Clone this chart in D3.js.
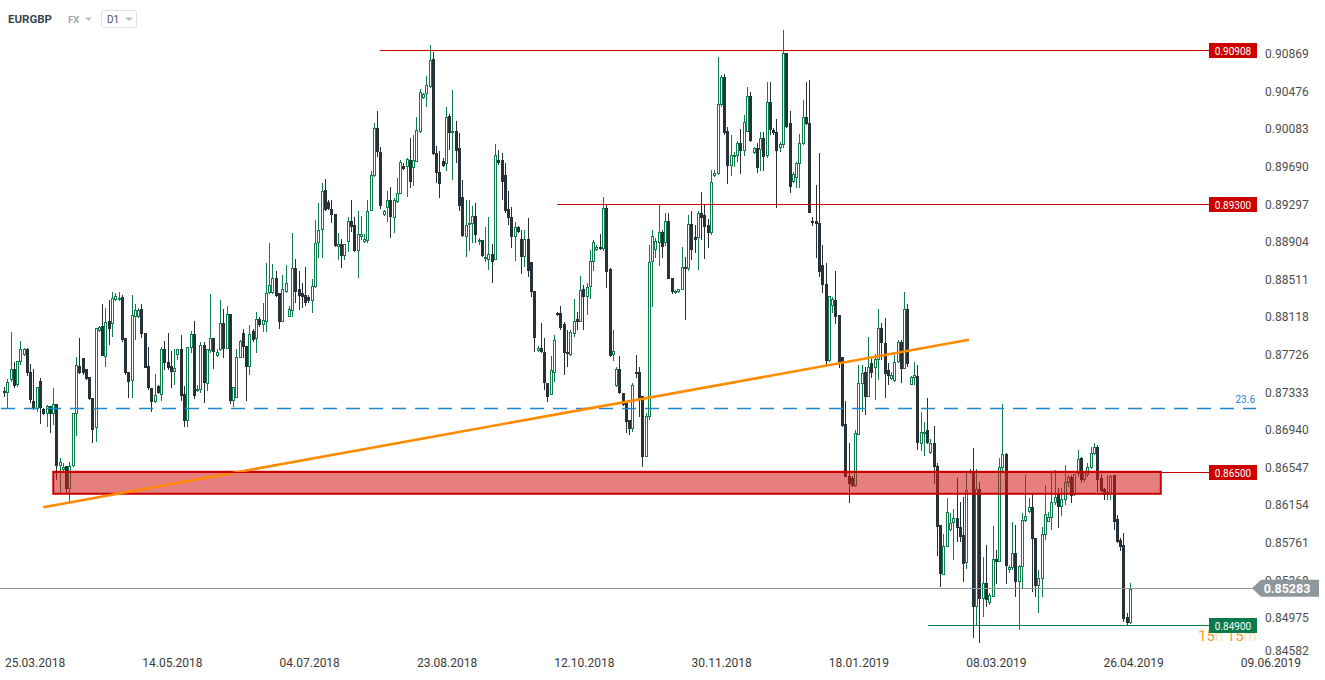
<!DOCTYPE html>
<html><head><meta charset="utf-8">
<script src="https://cdn.jsdelivr.net/npm/d3@7"></script>
<style>body{margin:0;background:#fff;overflow:hidden}svg{display:block;font-family:Roboto,"Open Sans",sans-serif}</style>
</head><body><svg id="chart" width="1325" height="680"></svg>
<script>
const symbol = "EURGBP", market = "FX", interval = "D1";
const open = [
.8734,.8732,.8746,.8757,.8741,.8765,.8772,.8778,.8754,.8724,
.8716,.8745,.8716,.8710,.8719,.8710,.8721,.8656,.8652,.8656,
.8632,.8656,.8710,.8761,.8769,.8757,.8749,.8727,.8696,.8797,
.8802,.8770,.8808,.8804,.8830,.8830,.8833,.8790,.8754,.8745,
.8812,.8812,.8820,.8795,.8761,.8738,.8723,.8740,.8730,.8778,
.8765,.8761,.8754,.8772,.8778,.8731,.8703,.8779,.8794,.8734,
.8735,.8782,.8742,.8776,.8790,.8771,.8777,.8805,.8778,.8815,
.8724,.8727,.8769,.8795,.8781,.8760,.8797,.8789,.8810,.8803,
.8807,.8837,.8837,.8853,.8837,.8806,.8838,.8812,.8818,.8863,
.8841,.8837,.8835,.8833,.8828,.8843,.8889,.8903,.8944,.8932,
.8925,.8919,.8885,.8888,.8875,.8890,.8912,.8908,.8881,.8895,
.8890,.8891,.8922,.8959,.9009,.8984,.8918,.8926,.8934,.8915,
.8932,.8940,.8970,.8969,.8976,.8967,.8974,.9005,.9041,.9045,
.9052,.9081,.8983,.8963,.8975,.8972,.9022,.9004,.9006,.8988,
.8937,.8895,.8908,.8909,.8917,.8890,.8892,.8872,.8871,.8878,
.8871,.8976,.8976,.8960,.8925,.8916,.8895,.8906,.8893,.8874,
.8893,.8869,.8839,.8776,.8779,.8775,.8743,.8730,.8753,.8816,
.8816,.8804,.8775,.8772,.8794,.8810,.8806,.8841,.8833,.8843,
.8869,.8882,.8885,.8883,.8926,.8862,.8772,.8740,.8757,.8732,
.8722,.8704,.8695,.8754,.8754,.8729,.8665,.8707,.8869,.8882,
.8889,.8901,.8889,.8912,.8852,.8837,.8838,.8840,.8864,.8862,
.8909,.8895,.8894,.8920,.8918,.8908,.8900,.8959,.8961,.9033,
.9063,.9006,.8970,.8979,.8980,.8994,.8985,.9005,.9043,.8983,
.8988,.8986,.8999,.8980,.9036,.9007,.9005,.8988,.8991,.9088,
.9014,.8953,.8957,.8972,.8993,.9021,.9014,.8912,.8912,.8910,
.8866,.8846,.8766,.8823,.8830,.8814,.8770,.8700,.8646,.8644,
.8635,.8688,.8742,.8754,.8728,.8764,.8758,.8767,.8800,.8785,
.8756,.8747,.8745,.8765,.8786,.8757,.8820,.8741,.8748,.8750,
.8679,.8690,.8694,.8670,.8680,.8656,.8594,.8542,.8571,.8589,
.8596,.8602,.8592,.8584,.8555,.8649,.8651,.8509,.8632,.8517,
.8534,.8513,.8519,.8559,.8556,.8654,.8669,.8547,.8549,.8565,
.8535,.8551,.8599,.8608,.8613,.8581,.8531,.8538,.8584,.8598,
.8602,.8617,.8628,.8613,.8620,.8638,.8645,.8626,.8648,.8664,
.8641,.8647,.8654,.8669,.8676,.8643,.8632,.8626,.8627,.8647,
.8601,.8579,.8573,.8498,.8492];
const high = [
.8739,.8747,.8796,.8765,.8766,.8787,.8779,.8779,.8763,.8757,
.8739,.8748,.8717,.8720,.8719,.8738,.8721,.8664,.8659,.8656,
.8660,.8711,.8770,.8790,.8769,.8757,.8749,.8727,.8800,.8802,
.8825,.8821,.8830,.8838,.8837,.8838,.8835,.8790,.8754,.8835,
.8825,.8821,.8825,.8795,.8780,.8738,.8752,.8741,.8780,.8787,
.8795,.8776,.8778,.8778,.8793,.8740,.8780,.8797,.8808,.8741,
.8786,.8786,.8778,.8836,.8790,.8778,.8830,.8820,.8823,.8815,
.8739,.8778,.8788,.8799,.8781,.8803,.8799,.8817,.8812,.8826,
.8868,.8889,.8867,.8860,.8837,.8856,.8866,.8823,.8900,.8872,
.8860,.8847,.8864,.8835,.8851,.8913,.8931,.8952,.8956,.8934,
.8934,.8919,.8900,.8893,.8888,.8916,.8934,.8916,.8923,.8917,
.8898,.8934,.8964,.9014,.9027,.8989,.8924,.8943,.8948,.8936,
.8957,.8976,.8973,.8978,.8999,.9002,.9021,.9050,.9046,.9064,
.9096,.9089,.8990,.8985,.8978,.9031,.9024,.9049,.9017,.9004,
.8955,.8934,.8934,.8928,.8931,.8894,.8892,.8906,.8916,.8888,
.8993,.8986,.8983,.8973,.8943,.8927,.8911,.8907,.8903,.8903,
.8915,.8869,.8839,.8781,.8805,.8790,.8743,.8771,.8793,.8817,
.8823,.8807,.8798,.8798,.8831,.8817,.8855,.8845,.8847,.8882,
.8892,.8887,.8898,.8937,.8930,.8863,.8798,.8759,.8771,.8732,
.8722,.8704,.8743,.8772,.8759,.8729,.8711,.8887,.8903,.8894,
.8930,.8903,.8920,.8920,.8852,.8840,.8841,.8885,.8874,.8918,
.8923,.8908,.8922,.8942,.8930,.8914,.8965,.8965,.9083,.9065,
.9066,.9010,.9002,.8984,.8996,.9008,.9023,.9052,.9047,.8989,
.8994,.9005,.9005,.9057,.9057,.9009,.9019,.8995,.9112,.9088,
.9027,.8963,.8974,.9003,.9039,.9057,.9059,.8916,.8950,.8983,
.8887,.8868,.8834,.8833,.8860,.8814,.8770,.8724,.8680,.8646,
.8694,.8762,.8762,.8759,.8791,.8768,.8773,.8820,.8805,.8811,
.8764,.8754,.8772,.8788,.8788,.8838,.8825,.8750,.8765,.8762,
.8712,.8702,.8727,.8684,.8698,.8659,.8594,.8585,.8623,.8607,
.8611,.8644,.8618,.8624,.8650,.8653,.8675,.8653,.8639,.8561,
.8573,.8523,.8593,.8568,.8664,.8721,.8670,.8553,.8597,.8594,
.8553,.8607,.8647,.8623,.8628,.8581,.8547,.8592,.8636,.8608,
.8650,.8652,.8633,.8633,.8657,.8647,.8647,.8648,.8673,.8665,
.8651,.8659,.8676,.8680,.8678,.8648,.8633,.8647,.8647,.8647,
.8605,.8581,.8586,.8502,.8534];
const low = [
.8728,.8717,.8744,.8738,.8739,.8762,.8771,.8750,.8722,.8715,
.8712,.8700,.8709,.8697,.8691,.8699,.8641,.8628,.8651,.8628,
.8619,.8655,.8687,.8752,.8751,.8746,.8725,.8680,.8681,.8796,
.8771,.8760,.8782,.8791,.8828,.8828,.8786,.8751,.8727,.8727,
.8788,.8811,.8790,.8758,.8735,.8712,.8722,.8731,.8724,.8756,
.8756,.8738,.8741,.8767,.8724,.8697,.8697,.8774,.8726,.8733,
.8732,.8722,.8734,.8774,.8757,.8770,.8776,.8769,.8778,.8721,
.8718,.8727,.8769,.8769,.8724,.8751,.8786,.8774,.8801,.8796,
.8796,.8836,.8836,.8833,.8799,.8806,.8837,.8812,.8812,.8826,
.8819,.8821,.8823,.8826,.8816,.8842,.8873,.8873,.8923,.8924,
.8910,.8885,.8871,.8863,.8871,.8880,.8901,.8880,.8852,.8892,
.8889,.8889,.8922,.8958,.8979,.8925,.8917,.8911,.8894,.8900,
.8931,.8940,.8965,.8937,.8947,.8949,.8974,.9004,.9040,.9031,
.9051,.8981,.8952,.8936,.8968,.8964,.8986,.8955,.8973,.8923,
.8895,.8874,.8881,.8889,.8889,.8887,.8874,.8869,.8861,.8847,
.8871,.8971,.8934,.8920,.8908,.8884,.8870,.8900,.8857,.8864,
.8854,.8833,.8775,.8775,.8774,.8735,.8723,.8730,.8744,.8813,
.8798,.8751,.8759,.8771,.8791,.8798,.8806,.8798,.8814,.8831,
.8860,.8881,.8882,.8881,.8842,.8770,.8766,.8739,.8731,.8719,
.8691,.8688,.8692,.8748,.8707,.8655,.8665,.8704,.8822,.8873,
.8865,.8873,.8886,.8851,.8836,.8836,.8837,.8840,.8809,.8860,
.8871,.8879,.8861,.8892,.8872,.8884,.8897,.8958,.8960,.9031,
.9002,.8951,.8959,.8968,.8974,.8961,.8980,.9005,.8995,.8982,
.8962,.8964,.8964,.8978,.9002,.9002,.8926,.8984,.8988,.9009,
.8941,.8952,.8947,.8947,.8991,.9012,.8920,.8907,.8873,.8854,
.8837,.8762,.8765,.8816,.8804,.8758,.8697,.8645,.8617,.8634,
.8634,.8688,.8712,.8709,.8728,.8748,.8725,.8746,.8767,.8727,
.8741,.8746,.8744,.8764,.8743,.8757,.8760,.8741,.8741,.8673,
.8672,.8666,.8679,.8669,.8637,.8562,.8530,.8542,.8571,.8588,
.8558,.8577,.8577,.8535,.8548,.8648,.8476,.8490,.8471,.8498,
.8509,.8511,.8519,.8533,.8556,.8649,.8533,.8544,.8547,.8519,
.8485,.8528,.8598,.8607,.8524,.8519,.8502,.8519,.8579,.8597,
.8589,.8615,.8591,.8604,.8615,.8634,.8617,.8625,.8645,.8638,
.8639,.8645,.8653,.8668,.8629,.8629,.8621,.8621,.8621,.8589,
.8576,.8567,.8493,.8490,.8491];
const close = [
.8732,.8744,.8757,.8740,.8766,.8778,.8778,.8753,.8725,.8716,
.8739,.8717,.8710,.8719,.8710,.8721,.8656,.8660,.8655,.8632,
.8656,.8711,.8762,.8753,.8753,.8747,.8726,.8694,.8800,.8801,
.8771,.8807,.8799,.8832,.8834,.8832,.8788,.8753,.8744,.8814,
.8819,.8819,.8794,.8758,.8738,.8723,.8730,.8732,.8778,.8764,
.8758,.8754,.8758,.8778,.8729,.8703,.8780,.8794,.8729,.8736,
.8782,.8743,.8778,.8790,.8775,.8775,.8805,.8778,.8815,.8724,
.8739,.8770,.8787,.8780,.8760,.8794,.8788,.8810,.8803,.8809,
.8837,.8845,.8852,.8834,.8806,.8841,.8847,.8820,.8863,.8838,
.8834,.8833,.8826,.8828,.8844,.8889,.8903,.8943,.8924,.8925,
.8918,.8886,.8888,.8875,.8888,.8912,.8906,.8881,.8898,.8898,
.8893,.8922,.8960,.9009,.8984,.8928,.8922,.8934,.8916,.8934,
.8941,.8974,.8966,.8977,.8953,.8976,.9007,.9047,.9045,.9054,
.9080,.8982,.8962,.8951,.8970,.9021,.9004,.9006,.8985,.8928,
.8896,.8908,.8910,.8917,.8897,.8892,.8875,.8874,.8878,.8869,
.8981,.8973,.8953,.8922,.8915,.8895,.8906,.8901,.8874,.8893,
.8860,.8838,.8790,.8779,.8775,.8743,.8728,.8756,.8788,.8814,
.8800,.8774,.8773,.8796,.8808,.8807,.8840,.8833,.8843,.8870,
.8890,.8885,.8883,.8926,.8859,.8771,.8776,.8757,.8732,.8720,
.8702,.8695,.8741,.8752,.8727,.8665,.8708,.8869,.8896,.8891,
.8901,.8885,.8912,.8851,.8838,.8839,.8841,.8864,.8862,.8909,
.8882,.8892,.8920,.8915,.8906,.8900,.8953,.8962,.9034,.9063,
.9004,.8970,.8981,.8981,.8994,.8985,.9016,.9043,.8996,.8988,
.8967,.8999,.8979,.9036,.9007,.9004,.8985,.8993,.9088,.9010,
.8948,.8961,.8973,.8994,.9021,.9013,.8920,.8910,.8909,.8859,
.8845,.8766,.8834,.8831,.8812,.8764,.8698,.8645,.8637,.8635,
.8690,.8743,.8753,.8728,.8759,.8753,.8768,.8800,.8785,.8752,
.8750,.8751,.8765,.8786,.8757,.8820,.8763,.8749,.8751,.8680,
.8692,.8692,.8680,.8680,.8655,.8592,.8543,.8572,.8608,.8596,
.8602,.8591,.8582,.8554,.8631,.8651,.8509,.8632,.8517,.8534,
.8516,.8521,.8559,.8556,.8655,.8669,.8552,.8551,.8565,.8535,
.8552,.8600,.8604,.8613,.8580,.8531,.8539,.8585,.8606,.8603,
.8618,.8624,.8613,.8622,.8639,.8645,.8625,.8648,.8663,.8641,
.8650,.8655,.8670,.8676,.8641,.8630,.8626,.8629,.8646,.8598,
.8577,.8571,.8496,.8492,.8528];

const dateLabels = ["25.03.2018","14.05.2018","04.07.2018","23.08.2018","12.10.2018","30.11.2018","18.01.2019","08.03.2019","26.04.2019","09.06.2019"];
const dateIndex = [9.5,51.45,93.4,135.35,177.3,219.25,261.2,303.15,345.1,387.05];
const priceTicks = [0.90869,0.90476,0.90083,0.89690,0.89297,0.88904,0.88511,0.88118,0.87726,0.87333,0.86940,0.86547,0.86154,0.85761,0.85368,0.84975,0.84582];
const levels = [0.90908, 0.89300, 0.86500, 0.84900];
const levelStart = [114.9, 169.0, 15.06, 282.3];
const levelKind = ["res","res","res","sup"];
const zone = [0.8627, 0.8650];
const zoneSpan = [15.06, 353.4];
const fibLevel = 0.87168, fibText = "23.6";
const trendIdx = [12.0, 294.8], trendPrice = [0.8613, 0.87879];
const lastPrice = 0.85283;
const countdown = ["15","h"," 15","m"];

const svg = d3.select("#chart");
const n = close.length;
const x = d3.scaleLinear().domain([0, 344]).range([4, 1130]);
const y = d3.scaleLinear().domain([0.84582, 0.90869]).range([655.3, 53.7]);
const GREEN = "#0f7d4c", DARK = "#263238", RED = "#cc0000";
const py = v => Math.round(y(v)) + 0.5;

// header
svg.append("text").attr("x",8).attr("y",23).attr("font-size",11.5).attr("font-weight",700).attr("fill","#37474f").text(symbol);
svg.append("text").attr("x",68).attr("y",22.5).attr("font-size",9.5).attr("font-weight",700).attr("fill","#9aa7b0").text(market);
svg.append("path").attr("d","M85,17.5L92,17.5L88.5,21Z").attr("fill","#b8c0c5");
svg.append("rect").attr("x",101.5).attr("y",10.5).attr("width",35).attr("height",17).attr("rx",2.5).attr("fill","#fff").attr("stroke","#dde1e4");
svg.append("text").attr("x",107).attr("y",22.5).attr("font-size",10).attr("fill","#4a555c").text(interval);
svg.append("path").attr("d","M125,17.5L133,17.5L129,21Z").attr("fill","#b8c0c5");

// price axis labels
svg.append("g").selectAll("text").data(priceTicks).join("text")
  .attr("x",1265).attr("y",d=>Math.min(y(d),650.5)+0.5).attr("dominant-baseline","central")
  .attr("font-size",12).attr("fill","#4e4e4e").text(d=>d.toFixed(5));

// date labels
svg.append("g").selectAll("text").data(dateLabels).join("text")
  .attr("x",(d,i)=>x(dateIndex[i])).attr("y",667).attr("text-anchor","middle")
  .attr("font-size",12).attr("fill","#3a3a3a").text(d=>d);

// candles
const cg = svg.append("g").attr("shape-rendering","crispEdges");
for (let i=0;i<n;i++){
  const o=open[i],h=high[i],l=low[i],c=close[i];
  const up = c>=o;
  const cx = Math.round(x(i));
  const col = up?GREEN:DARK;
  const yh=Math.round(y(h)), yl=Math.round(y(l));
  cg.append("rect").attr("x",cx).attr("y",yh).attr("width",1).attr("height",Math.max(1,yl-yh)).attr("fill",col);
  const top=Math.round(y(Math.max(o,c))), bot=Math.round(y(Math.min(o,c)));
  if(up){
    const hh=bot-top;
    if(hh<2){
      cg.append("rect").attr("x",cx-1).attr("y",top).attr("width",3).attr("height",2).attr("fill",GREEN);
    } else {
      cg.append("rect").attr("x",cx-0.5).attr("y",top+0.5).attr("width",2).attr("height",hh-1)
        .attr("fill","#fff").attr("stroke",GREEN).attr("stroke-width",1);
    }
  } else {
    cg.append("rect").attr("x",cx-1).attr("y",top).attr("width",3).attr("height",Math.max(bot-top,2)).attr("fill",DARK);
  }
}

// fib dashed line
svg.append("line").attr("x1",1).attr("x2",1256).attr("y1",py(fibLevel)).attr("y2",py(fibLevel))
  .attr("stroke","#1e86d0").attr("stroke-width",1.3).attr("stroke-dasharray","14,9");
svg.append("text").attr("x",1255).attr("y",y(fibLevel)-5).attr("text-anchor","end").attr("font-size",10).attr("fill","#1e86d0").text(fibText);

// current price line
svg.append("line").attr("x1",0).attr("x2",1253).attr("y1",py(lastPrice)).attr("y2",py(lastPrice)).attr("stroke","#8e979c").attr("stroke-width",1);

// zone
svg.append("rect").attr("x",x(zoneSpan[0])).attr("y",y(zone[1])).attr("width",x(zoneSpan[1])-x(zoneSpan[0]))
  .attr("height",y(zone[0])-y(zone[1])).attr("fill","rgb(212,22,22)").attr("fill-opacity",0.55)
  .attr("stroke",RED).attr("stroke-width",2);

// trend line
svg.append("line").attr("x1",x(trendIdx[0])).attr("y1",y(trendPrice[0])).attr("x2",x(trendIdx[1])).attr("y2",y(trendPrice[1]))
  .attr("stroke","#ff8a00").attr("stroke-width",2.6);

// countdown
const cd = svg.append("text").attr("x",1198).attr("y",641).attr("font-size",15).attr("fill","#f7a030");
countdown.forEach((t,i)=>cd.append("tspan").attr("fill-opacity",i%2?0.35:1).text(t));

// level lines + labels
levels.forEach((v,i)=>{
  const col = levelKind[i]==="sup" ? "#0b7a4b" : RED;
  svg.append("line").attr("x1",x(levelStart[i])).attr("x2",1209).attr("y1",py(v)).attr("y2",py(v)).attr("stroke",col).attr("stroke-width",1);
  svg.append("rect").attr("x",1209).attr("y",Math.round(y(v))-7).attr("width",48).attr("height",15).attr("fill",col);
  svg.append("text").attr("x",1233).attr("y",Math.round(y(v))+1).attr("text-anchor","middle").attr("dominant-baseline","central")
    .attr("font-size",10).attr("fill","#fff").text(v.toFixed(5));
});

// last price tag
const ly = y(lastPrice);
svg.append("path").attr("d",`M1252,${ly}L1261,${ly-8.5}L1319,${ly-8.5}L1319,${ly+8.5}L1261,${ly+8.5}Z`).attr("fill","#8e979c");
svg.append("text").attr("x",1287).attr("y",ly+0.5).attr("text-anchor","middle").attr("dominant-baseline","central")
  .attr("font-size",12.5).attr("font-weight",700).attr("fill","#fff").text(lastPrice.toFixed(5));
</script></body></html>
